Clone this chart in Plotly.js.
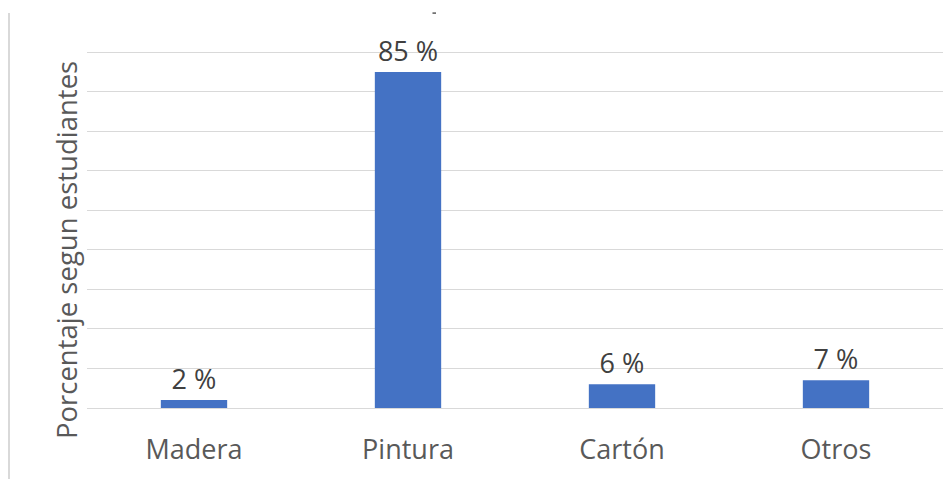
<!DOCTYPE html>
<html>
<head>
<meta charset="utf-8">
<script src="https://cdn.plot.ly/plotly-3.0.1.min.js"></script>
<style>html,body{margin:0;padding:0;background:#fff;}#chart{width:949px;height:479px;}</style>
</head>
<body>
<div id="chart"></div>
<script>
const categories = ["Madera", "Pintura", "Cartón", "Otros"];
const percentages = [2, 85, 6, 7];
const yTitle = "Porcentaje segun estudiantes";

const trace = {
  type: "bar",
  x: categories,
  y: percentages,
  marker: {color: "#4472c4"},
  texttemplate: "%{y} %",
  textposition: "outside",
  cliponaxis: false,
  textfont: {family: "Open Sans, Noto Sans, sans-serif", size: 27, color: "#404040"},
  hoverinfo: "skip"
};

const layout = {
  width: 949,
  height: 479,
  margin: {l: 87, r: 6, t: 49, b: 71, pad: 0},
  paper_bgcolor: "#ffffff",
  plot_bgcolor: "#ffffff",
  bargap: 0.69,
  showlegend: false,
  font: {family: "Open Sans, Noto Sans, sans-serif", color: "#595959"},
  xaxis: {
    type: "category",
    showgrid: false,
    zeroline: false,
    showline: true,
    linecolor: "#d9d9d9",
    linewidth: 1,
    ticks: "",
    ticklabelstandoff: 18,
    tickfont: {size: 27, color: "#595959"},
    automargin: false,
    fixedrange: true
  },
  yaxis: {
    range: [0, 90.8],
    dtick: 10,
    showticklabels: false,
    showgrid: true,
    gridcolor: "#d9d9d9",
    gridwidth: 1,
    zeroline: false,
    ticks: "",
    automargin: false,
    fixedrange: true
  },
  annotations: [
    {text: yTitle, xref: "paper", yref: "paper", x: -0.0245, y: 0.44, xanchor: "center", yanchor: "middle",
     textangle: -90, showarrow: false, font: {size: 27.5, color: "#595959"}}
  ],
  shapes: [
    {type: "line", xref: "paper", yref: "paper", x0: -0.0911, x1: -0.0911, y0: 1.1, y1: -0.2, line: {color: "#d9d9d9", width: 2}},
    {type: "line", xref: "paper", yref: "paper", x0: 0.4036, x1: 0.4077, y0: 1.1, y1: 1.1, line: {color: "#595959", width: 1.5}}
  ]
};

Plotly.newPlot("chart", [trace], layout, {displayModeBar: false, staticPlot: true});
</script>
</body>
</html>
